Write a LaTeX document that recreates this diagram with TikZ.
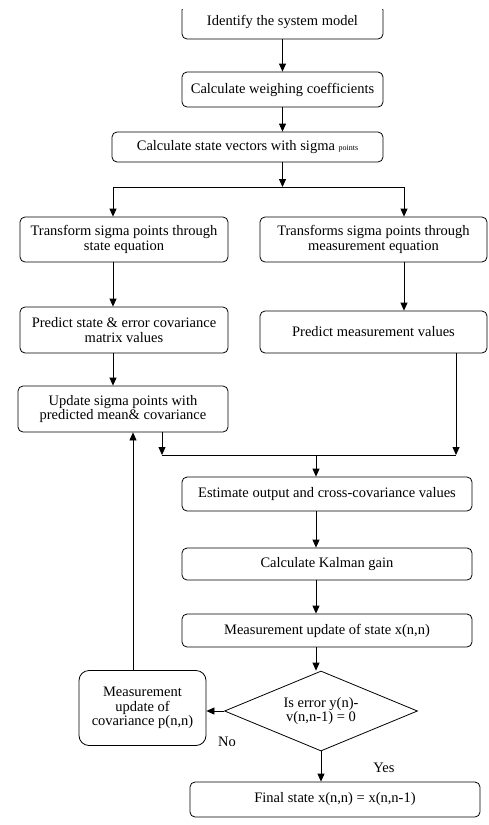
\documentclass[tikz,border=0pt]{standalone}
\usepackage{fontspec}
\setmainfont{Liberation Serif}
\usetikzlibrary{shapes.geometric,arrows.meta}

\tikzset{
  box/.style={draw, rounded corners=5pt, align=center, inner sep=1pt, line width=0.8pt},
  decide/.style={draw, diamond, aspect=2.4, inner sep=0pt, align=center, line width=0.8pt,
    minimum width=193pt, minimum height=80pt},
  arr/.style={-{Triangle[length=8pt,width=7pt]}, line width=0.8pt},
  ln/.style={line width=0.8pt}
}

\begin{document}
\begin{tikzpicture}[x=1pt,y=-1pt,font=\fontsize{14.5}{14.5}\selectfont]
\useasboundingbox (0,0) rectangle (489,825);
\clip (0,9.5) rectangle (489,825);

\node[box, minimum width=201pt, minimum height=34pt] (ident) at (282.5,22) {Identify the system model};
\node[box, minimum width=201pt, minimum height=35pt] (weigh) at (282.5,89.5) {Calculate weighing coefficients};
\node[box, minimum width=271pt, minimum height=30pt] (sigma) at (247.5,147) {Calculate state vectors with sigma {\fontsize{8}{8}\selectfont points}};

%-------------------------------------
\node[box, minimum width=208pt, minimum height=45pt] (trs) at (124,239.5) {Transform sigma points through\\state equation};
\node[box, minimum width=227pt, minimum height=45pt] (trm) at (373.5,239.5) {Transforms sigma points through\\measurement equation};
\node[box, minimum width=208pt, minimum height=46pt] (pst) at (124,330) {Predict state \& error covariance\\matrix values};
\node[box, minimum width=227pt, minimum height=42pt] (pms) at (373.5,332) {Predict measurement values};
\node[box, minimum width=210pt, minimum height=46pt] (upd) at (123,409) {Update sigma points with\\predicted mean\& covariance};

%-------------------------------------
\node[box, minimum width=290pt, minimum height=34pt] (est) at (327,494) {Estimate output and cross-covariance values};
\node[box, minimum width=290pt, minimum height=32pt] (gain) at (327,564) {Calculate Kalman gain};
\node[box, minimum width=290pt, minimum height=33pt] (mus) at (327,630.5) {Measurement update of state x(n,n)};
\node[decide] (err) at (321,711) {Is error y(n)-\\v(n,n-1) = 0};
\node[box, rounded corners=10pt, minimum width=127pt, minimum height=75pt] (muc) at (142.5,708) {Measurement\\update of\\covariance p(n,n)};
\node[box, minimum width=290pt, minimum height=35pt] (fin) at (335,799.5) {Final state x(n,n) = x(n,n-1)};
\node (no) at (227,742) {No};
\node (yes) at (384,768) {Yes};

%\draw (jL) -- (jM) -- (jR);

\coordinate (sL) at (113,187);
\coordinate (sR) at (404,187);
\coordinate (jL) at (162,455);
\coordinate (jM) at (316,455);
\coordinate (jR) at (456,455);
\coordinate (back) at (133,0);

\draw[arr] (ident) -- (weigh);
\draw[arr] (weigh.south) -- (weigh.south |- sigma.north);
\draw[arr] (weigh.south |- sigma.south) -- (weigh.south |- sL);
\draw[ln] (sL) -- (sR);
\draw[arr] (sL) -- (sL |- trs.north);
\draw[arr] (sR) -- (sR |- trm.north);
\draw[arr] (sL |- trs.south) -- (sL |- pst.north);
\draw[arr] (sR |- trm.south) -- (sR |- pms.north);
\draw[arr] (sL |- pst.south) -- (sL |- upd.north);
\draw[arr] (jR |- pms.south) -- (jR);
\draw[arr] (jL |- upd.south) -- (jL);
\draw[ln] (jL) -- (jR);
\draw[arr] (jM) -- (jM |- est.north);
\draw[arr] (jM |- est.south) -- (jM |- gain.north);
\draw[arr] (jM |- gain.south) -- (jM |- mus.north);
\draw[arr] (jM |- mus.south) -- (jM |- err.north);
\draw[arr] (err.west) -- (err.west -| muc.east);
\draw[arr] (back |- muc.north) -- (back |- upd.south);
\draw[arr] (err.south) -- (err.south |- fin.north);

\end{tikzpicture}
\end{document}
